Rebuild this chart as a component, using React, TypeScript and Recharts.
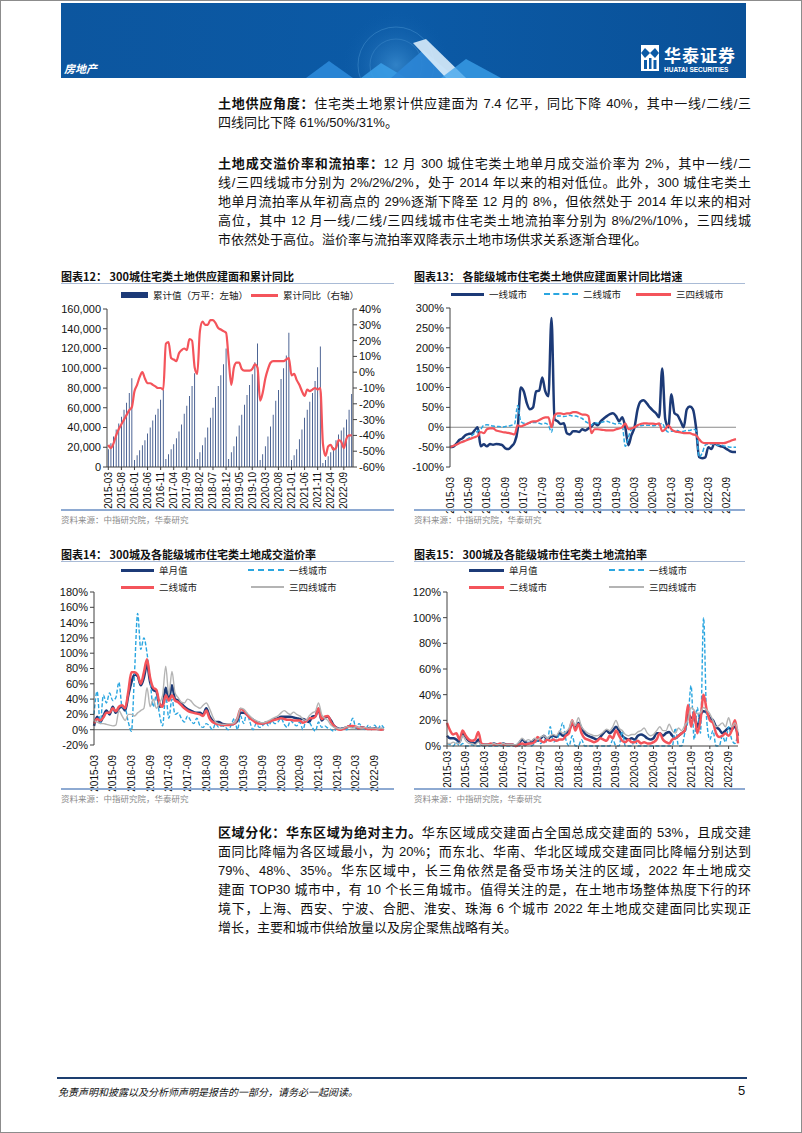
import React from 'react';
import { ComposedChart, LineChart, Bar, Line, XAxis, YAxis, ReferenceLine } from 'recharts';

// month categories 2015-03 .. 2022-12
const months: string[] = [];
for (let y = 2015; y <= 2022; y++) {
  for (let m = y === 2015 ? 3 : 1; m <= 12; m++) months.push(`${y}-${String(m).padStart(2, '0')}`);
}

// 图表12: cumulative supply (万平) and cumulative YoY (%)
const supplyCum = [
  18000, 24000, 31000, 38000, 44000, 51000, 58000, 65000, 75000, 90000,
  7000, 12000, 17000, 22000, 27000, 34000, 40000, 47000, 53000, 59000, 68000, 78000,
  8000, 13000, 18000, 23000, 29000, 36000, 43000, 54000, 62000, 72000, 82000, 95000,
  8000, 15000, 22000, 30000, 40000, 50000, 60000, 71000, 82000, 93000, 104000, 120000,
  8000, 15000, 21000, 31000, 42000, 53000, 63000, 73000, 83000, 94000, 106000, 125000,
  7000, 13000, 21000, 31000, 41000, 53000, 67000, 78000, 89000, 100000, 113000, 136000,
  7000, 12000, 18000, 28000, 38000, 50000, 58000, 66000, 75000, 87000, 101000, 122000,
  4000, 7000, 11000, 15000, 20000, 27000, 33000, 37000, 40000, 48000, 58000, 74000,
];
const supplyYoY = [
  -46, -48, -45, -40, -36, -33, -30, -27, -24, -22,
  -12, -8, -3, 0, -4, -7, -7, -8, -9, -10, -10, -11,
  18, 19, 9, 8, 7, 12, 14, 15, 14, 21, 20, 3,
  -1, 26, 32, 30, 30, 33, 33, 31, 28, 27, 26, 25,
  8, -8, 3, 6, 6, 2, 1, 1, 1, 2, 5, 3,
  -18, -13, -4, 2, 6, 7, 7, 7, 7, 7, 8, 9,
  -2, -1, -5, -8, -12, -15, -11, -12, -11, -10, -11, -10,
  -45, -53, -47, -46, -49, -48, -43, -44, -48, -42, -40, -40,
];

// 图表13: cumulative supply YoY by city tier (%)
const tier1Supply = [
  -50, -49, -42, -32, -28, -20, -17, -16, -8, 0,
  -48, -43, -48, -42, -44, -42, -43, -45, -53, -55,
  -48, -38, -5, 100, 90, 60, 45, 50, 90, 92,
  125, 90, 78, 275, 20, 15, 8, 10, -15, -18,
  -10, -10, -12, -5, -8, -3, 2, 10, 5, 15,
  22, 28, 33, 35, 28, 15, 25, 0, -45, -20,
  0, 45, 65, 68, 60, 50, 42, 35, 25, 148,
  20, 0, 83, 35, 30, 15, 0, 45, 52, 45,
  0, -75, -78, -76, -50, -55, -40, -45, -48, -50,
  -55, -60, -62, -62,
];
const tier2Supply = [
  -48, -47, -44, -40, -36, -32, -28, -22, -15, -10,
  -5, 5, 6, 5, 3, 2, 2, 0, 2, 3,
  5, 8, 55, 15, 10, 10, 10, 12, 12, 10,
  8, 10, 5, -12, 25, 28, 28, 27, 28, 30,
  28, 28, 25, 22, 15, 10, 5, 12, 10, 12,
  14, 15, 12, 10, 8, 10, 5, -48, -25, -5,
  0, 2, 4, 5, 5, 5, 4, 5, 6, 10,
  -5, -12, -10, -10, -8, -12, -10, -8, -8, -5,
  -8, -75, -65, -45, -42, -42, -42, -45, -45, -47,
  -48, -50, -50, -50,
];
const tier34Supply = [
  -50, -47, -44, -40, -37, -34, -31, -28, -25, -22,
  -12, -15, -5, -3, -3, -8, -10, -12, -13, -14,
  -16, -18, 5, 2, 5, 8, 12, 15, 15, 18,
  22, 25, 25, 0, 30, 35, 35, 33, 35, 35,
  38, 38, 35, 32, 32, 28, -15, -5, -5, -6,
  -7, -8, -8, -8, -5, -3, 0, 10, -5, -3,
  0, 5, 8, 10, 10, 9, 9, 8, 10, -10,
  -5, 5, -5, -10, -12, -13, -15, -15, -15, -18,
  -20, -30, -38, -40, -40, -40, -40, -40, -40, -40,
  -38, -35, -32, -30,
];

// 图表14: premium rate (%)
const premiumAll = [
  5, 17, 10, 18, 25, 20, 30, 22, 28, 30,
  25, 45, 62, 72, 70, 58, 68, 85, 62, 52,
  50, 30, 32, 55, 40, 58, 40, 38, 34, 30,
  27, 25, 23, 22, 22, 20, 28, 18, 12, 10,
  10, 8, 7, 7, 7, 8, 12, 22, 22, 20,
  16, 13, 10, 9, 8, 9, 10, 12, 14, 15,
  17, 17, 17, 17, 16, 15, 14, 14, 12, 10,
  17, 18, 27, 12, 16, 17, 12, 5, 2, 1,
  2, 3, 5, 4, 3, 2, 3, 2, 2, 1,
  2, 1, 1, 1,
];
const premiumT1 = [
  20, 50, 8, 45, 35, 48, 38, 42, 62, 30,
  28, 10, -2, 75, 152, 105, 120, 100, 65, 30,
  45, 20, 5, 45, 15, 40, 20, 22, 15, 10,
  18, 12, 8, 15, 5, 3, 8, 5, 0, 8,
  3, 5, 4, 0, 6, 15, 0, 18, 8, 22,
  10, 0, 8, 3, 5, 10, 5, 12, 8, 10,
  15, 7, 3, 12, 8, 5, 10, 0, 12, 10,
  3, -2, 10, 3, 5, 2, 0, -2, 3, 1,
  2, 0, 5, 15, 2, 8, 3, 0, 6, 2,
  6, 1, 6, 2,
];
const premiumT2 = [
  8, 14, 12, 16, 22, 22, 28, 24, 30, 32,
  28, 50, 75, 75, 72, 60, 75, 92, 68, 55,
  52, 35, 30, 45, 38, 45, 38, 36, 32, 28,
  25, 23, 22, 21, 20, 18, 25, 15, 10, 8,
  7, 6, 6, 6, 7, 8, 15, 27, 25, 20,
  15, 12, 9, 8, 8, 9, 10, 12, 13, 14,
  15, 14, 13, 13, 12, 12, 12, 9, 11, 15,
  15, 17, 28, 14, 17, 18, 10, 5, 1, 0,
  1, 3, 5, 5, 4, 2, 3, 2, 1, 1,
  1, 1, 0, 1,
];
const premiumT34 = [
  12, 10, 8, 8, 7, 6, 5, 6, 25, 18,
  12, 20, 20, 18, 22, 25, 28, 55, 30, 40,
  28, 35, 45, 83, 45, 76, 48, 42, 36, 35,
  40, 38, 33, 30, 28, 32, 35, 28, 18, 10,
  8, 7, 7, 8, 8, 9, 15, 28, 27, 22,
  18, 14, 12, 10, 9, 10, 12, 14, 16, 18,
  22, 25, 22, 20, 23, 20, 18, 14, 12, 18,
  22, 24, 35, 20, 15, 12, 6, 3, 2, 1,
  2, 4, 3, 2, 4, 3, 2, 3, 2, 2,
  2, 1, 2, 1,
];

// 图表15: unsold (流拍) rate (%)
const failAll = [
  8, 6, 6, 5, 3, 10, 7, 4, 3, 2,
  5, 1, 1, 1, 1, 2, 1, 1, 2, 1,
  1, 1, 0, 2, 5, 3, 2, 3, 5, 4,
  6, 8, 5, 7, 8, 7, 10, 8, 9, 12,
  17, 15, 18, 14, 10, 8, 7, 6, 5, 7,
  10, 12, 10, 12, 15, 12, 8, 6, 5, 6,
  5, 8, 9, 8, 6, 5, 6, 10, 10, 8,
  10, 11, 8, 6, 8, 10, 12, 25, 22, 22,
  15, 24, 27, 26, 22, 20, 15, 13, 10, 12,
  14, 13, 15, 8,
];
const failT1 = [
  2, 1, 0, 3, 0, 2, 0, 0, 1, 0,
  0, 0, 0, 0, 0, 0, 0, 0, 0, 0,
  0, 0, 0, 0, 2, 0, 3, 0, 2, 4,
  2, 5, 3, 15, 3, 5, 10, 18, 5, 0,
  8, 0, 0, 5, 0, 0, 0, 0, 0, 0,
  0, 0, 0, 5, 0, 0, 12, 0, 0, 0,
  5, 0, 0, 0, 0, 0, 0, 0, 0, 0,
  0, 0, 0, 14, 0, 0, 10, 20, 47, 5,
  30, 10, 100, 20, 5, 12, 0, 0, 8, 3,
  15, 5, 2, 10,
];
const failT2 = [
  18, 12, 9, 10, 5, 12, 8, 5, 4, 5,
  11, 2, 1, 1, 2, 1, 1, 2, 1, 1,
  1, 1, 0, 1, 2, 1, 2, 2, 3, 7,
  4, 3, 5, 4, 5, 4, 5, 5, 8, 10,
  20, 12, 17, 10, 6, 5, 4, 3, 4, 6,
  5, 4, 8, 6, 12, 8, 4, 3, 5, 3,
  3, 4, 2, 3, 2, 2, 3, 5, 10, 5,
  3, 2, 5, 6, 8, 10, 12, 32, 15, 27,
  10, 20, 40, 28, 20, 18, 10, 7, 8, 10,
  8, 12, 20, 2,
];
const failT34 = [
  2, 2, 3, 2, 2, 8, 4, 2, 2, 1,
  3, 1, 1, 1, 1, 2, 1, 1, 2, 1,
  1, 1, 1, 3, 6, 4, 5, 4, 6, 5,
  7, 8, 6, 8, 9, 8, 12, 10, 11, 14,
  20, 16, 22, 15, 12, 10, 9, 8, 8, 9,
  11, 13, 12, 15, 20, 14, 12, 9, 8, 9,
  9, 11, 12, 14, 10, 8, 9, 12, 15, 12,
  12, 17, 12, 10, 14, 12, 16, 20, 30, 28,
  25, 26, 30, 28, 25, 20, 15, 16, 18, 15,
  22, 15, 18, 12,
];

const supplyTicks = [0, 20000, 40000, 60000, 80000, 100000, 120000, 140000, 160000];
const yoyTicks = [-60, -50, -40, -30, -20, -10, 0, 10, 20, 30, 40];
const tierTicks = [-100, -50, 0, 50, 100, 150, 200, 250, 300];
const premiumTicks = [-20, 0, 20, 40, 60, 80, 100, 120, 140, 160, 180];
const failTicks = [0, 20, 40, 60, 80, 100, 120];

const data12 = months.map((m, i) => ({ month: m, cum: supplyCum[i], yoy: supplyYoY[i] }));
const data13 = months.map((m, i) => ({ month: m, t1: tier1Supply[i], t2: tier2Supply[i], t34: tier34Supply[i] }));
const data14 = months.map((m, i) => ({ month: m, all: premiumAll[i], t1: premiumT1[i], t2: premiumT2[i], t34: premiumT34[i] }));
const data15 = months.map((m, i) => ({ month: m, all: failAll[i], t1: failT1[i], t2: failT2[i], t34: failT34[i] }));

const SANS = '"Liberation Sans", Arial, "Noto Sans CJK SC", sans-serif';
const CJK = '"Noto Sans CJK SC", "Liberation Sans", sans-serif';
const NAVY = '#1c3a77';
const RED = '#f4545b';
const CYAN = '#2aa6e0';
const GREY = '#b4b4b4';

const pct = (v: number) => `${v}%`;
const thousands = (v: number) => v.toLocaleString('en-US');

const RotTick = (props: any) => {
  const { x, y, payload } = props;
  return (
    <g transform={`translate(${x},${y})`}>
      <text x={0} y={0} dy={3.5} transform="rotate(-90)" textAnchor="end" fontSize={10} fill="#111" fontFamily={SANS}>
        {payload.value}
      </text>
    </g>
  );
};

const yTick = { fontSize: 11, fill: '#111', fontFamily: SANS };

type Seg = [string, boolean];
const TextLine = ({ y, parts, last }: { y: number; parts: Seg[]; last?: boolean }) => (
  <div
    style={{
      position: 'absolute', left: 217, top: y - 10, width: 533, height: 20, lineHeight: '20px',
      fontSize: 13, fontFamily: SANS, color: '#111', textAlign: 'justify',
      textAlignLast: last ? 'left' : 'justify',
    }}
  >
    {parts.map(([t, b], i) => (
      <span key={i} style={{ fontWeight: b ? 700 : 400 }}>{t}</span>
    ))}
  </div>
);

const Title = ({ x, y, w, text }: { x: number; y: number; w: number; text: string }) => (
  <>
    <div style={{ position: 'absolute', left: x, top: y - 8, fontSize: 11, fontWeight: 700, fontFamily: CJK, color: '#111', whiteSpace: 'nowrap', lineHeight: '16px' }}>{text}</div>
    <div style={{ position: 'absolute', left: x, top: y + 7, width: w, height: 1, background: '#a9bbd6' }} />
  </>
);

const Source = ({ x, y, w }: { x: number; y: number; w: number }) => (
  <>
    <div style={{ position: 'absolute', left: x, top: y, width: w, height: 2, background: '#8eaad2' }} />
    <div style={{ position: 'absolute', left: x, top: y + 3, fontSize: 8.5, fontFamily: CJK, color: '#8a8a8a', lineHeight: '14px', whiteSpace: 'nowrap' }}>资料来源：中指研究院，华泰研究</div>
  </>
);

const LegendItem = ({ x, y, w, color, kind, text }: { x: number; y: number; w: number; color: string; kind: string; text: string }) => {
  let sw: React.CSSProperties;
  if (kind === 'bar') sw = { top: y - 3, height: 6, background: color };
  else if (kind === 'dash') sw = { top: y - 1, height: 0, borderTop: `2px dashed ${color}` };
  else if (kind === 'thin') sw = { top: y - 1, height: 1.5, background: color };
  else sw = { top: y - 1.5, height: 3, background: color };
  return (
    <>
      <div style={{ position: 'absolute', left: x, width: w, ...sw }} />
      <div style={{ position: 'absolute', left: x + w + 5, top: y - 7, fontSize: 9.5, fontFamily: CJK, color: '#222', lineHeight: '14px', whiteSpace: 'nowrap' }}>{text}</div>
    </>
  );
};

const Banner = () => (
  <div style={{ position: 'absolute', left: 60, top: 2, width: 685, height: 75, background: 'linear-gradient(90deg,#0c569f,#0b5aa6 50%,#0a5198)', overflow: 'hidden' }}>
    <svg width={685} height={75} style={{ position: 'absolute', left: 0, top: 0 }}>
      <defs>
        <radialGradient id="glow" cx="0.5" cy="0.5" r="0.5">
          <stop offset="0%" stopColor="#5fb3f0" stopOpacity={0.45} />
          <stop offset="100%" stopColor="#0b5aa6" stopOpacity={0} />
        </radialGradient>
      </defs>
      <circle cx={335} cy={62} r={55} fill="url(#glow)" />
      <circle cx={335} cy={62} r={38} fill="none" stroke="#7cc4f5" strokeOpacity={0.25} />
      <circle cx={335} cy={62} r={26} fill="none" stroke="#7cc4f5" strokeOpacity={0.2} />
      <polygon points="245,75 268,58 292,75" fill="#2f8fe0" opacity={0.8} />
      <polygon points="300,75 320,60 345,75" fill="#3b9fe8" opacity={0.85} />
      <polygon points="330,75 362,47 395,75" fill="#2c86d6" opacity={0.9} />
      <polygon points="352,40 365,36 405,75 385,75" fill="#d8ecfb" opacity={0.9} />
      <polygon points="380,75 405,56 440,75" fill="#3da3ec" opacity={0.75} />
    </svg>
    <div style={{ position: 'absolute', left: 3, top: 57, fontSize: 11, fontStyle: 'italic', fontWeight: 700, color: '#fff', fontFamily: CJK }}>房地产</div>
    <svg width={18} height={26} style={{ position: 'absolute', left: 580, top: 42 }}>
      <rect x={0} y={0} width={18} height={26} fill="#fff" />
      <polygon points="4,3 9,8 4,13 0,8" fill="#0b5aa6" />
      <polygon points="14,3 18,8 14,13 9,8" fill="#0b5aa6" />
      <rect x={3} y={15} width={3} height={9} fill="#0b5aa6" />
      <rect x={8} y={13} width={2.5} height={11} fill="#0b5aa6" />
      <rect x={12.5} y={15} width={3} height={9} fill="#0b5aa6" />
    </svg>
    <div style={{ position: 'absolute', left: 603, top: 41, fontSize: 17, fontWeight: 700, color: '#fff', fontFamily: CJK, lineHeight: '22px', letterSpacing: 1 }}>华泰证券</div>
    <div style={{ position: 'absolute', left: 603, top: 63, fontSize: 6.5, fontWeight: 700, color: '#fff', fontFamily: SANS, lineHeight: '8px' }}>HUATAI SECURITIES</div>
  </div>
);

const Chart12 = () => (
  <div style={{ position: 'absolute', left: 56, top: 300 }}>
    <ComposedChart width={330} height={215} data={data12} margin={{ top: 8, right: 0, left: 0, bottom: 0 }} barCategoryGap="35%">
      <XAxis dataKey="month" interval={4} tick={<RotTick />} height={49} tickSize={3} tickMargin={2} stroke="#404040" />
      <YAxis yAxisId="l" width={50} domain={[0, 160000]} ticks={supplyTicks} interval={0} tickFormatter={thousands} tick={yTick} stroke="#404040" tickSize={4} />
      <YAxis yAxisId="r" orientation="right" width={34} domain={[-60, 40]} ticks={yoyTicks} interval={0} tickFormatter={pct} tick={yTick} stroke="#404040" tickSize={4} />
      <Bar yAxisId="l" dataKey="cum" fill={NAVY} isAnimationActive={false} />
      <Line yAxisId="r" dataKey="yoy" type="monotone" stroke={RED} strokeWidth={2.2} dot={false} isAnimationActive={false} />
    </ComposedChart>
  </div>
);

const Chart13 = () => (
  <div style={{ position: 'absolute', left: 404, top: 300 }}>
    <LineChart width={339} height={215} data={data13} margin={{ top: 7, right: 8, left: 0, bottom: 0 }}>
      <XAxis dataKey="month" interval={5} tick={<RotTick />} height={49} axisLine={false} tickLine={false} tickMargin={4} />
      <YAxis width={45} domain={[-100, 300]} ticks={tierTicks} interval={0} tickFormatter={pct} tick={yTick} stroke="#404040" tickSize={4} />
      <ReferenceLine y={0} stroke="#8a8a8a" strokeWidth={1.2} />
      <Line dataKey="t1" type="monotone" stroke={NAVY} strokeWidth={2.5} dot={false} isAnimationActive={false} />
      <Line dataKey="t2" type="monotone" stroke={CYAN} strokeWidth={1.5} strokeDasharray="4 2" dot={false} isAnimationActive={false} />
      <Line dataKey="t34" type="monotone" stroke={RED} strokeWidth={2.2} dot={false} isAnimationActive={false} />
    </LineChart>
  </div>
);

const Chart14 = () => (
  <div style={{ position: 'absolute', left: 56, top: 584 }}>
    <LineChart width={332} height={209} data={data14} margin={{ top: 7, right: 5, left: 0, bottom: 0 }}>
      <XAxis dataKey="month" interval={5} tick={<RotTick />} height={49} axisLine={false} tickLine={false} tickMargin={4} />
      <YAxis width={37} domain={[-20, 180]} ticks={premiumTicks} interval={0} tickFormatter={pct} tick={yTick} stroke="#404040" tickSize={4} />
      <ReferenceLine y={0} stroke="#8a8a8a" strokeWidth={1.2} />
      <Line dataKey="all" type="monotone" stroke={NAVY} strokeWidth={2.5} dot={false} isAnimationActive={false} />
      <Line dataKey="t1" type="monotone" stroke={CYAN} strokeWidth={1.4} strokeDasharray="4 2" dot={false} isAnimationActive={false} />
      <Line dataKey="t2" type="monotone" stroke={RED} strokeWidth={2.5} dot={false} isAnimationActive={false} />
      <Line dataKey="t34" type="monotone" stroke={GREY} strokeWidth={1.4} dot={false} isAnimationActive={false} />
    </LineChart>
  </div>
);

const Chart15 = () => (
  <div style={{ position: 'absolute', left: 404, top: 584 }}>
    <LineChart width={338} height={210} data={data15} margin={{ top: 7, right: 5, left: 0, bottom: 0 }}>
      <XAxis dataKey="month" interval={5} tick={<RotTick />} height={49} tickSize={3} tickMargin={2} stroke="#404040" />
      <YAxis width={42} domain={[0, 120]} ticks={failTicks} interval={0} tickFormatter={pct} tick={yTick} stroke="#404040" tickSize={4} />
      <Line dataKey="all" type="monotone" stroke={NAVY} strokeWidth={2.5} dot={false} isAnimationActive={false} />
      <Line dataKey="t1" type="monotone" stroke={CYAN} strokeWidth={1.4} strokeDasharray="4 2" dot={false} isAnimationActive={false} />
      <Line dataKey="t2" type="monotone" stroke={RED} strokeWidth={2.5} dot={false} isAnimationActive={false} />
      <Line dataKey="t34" type="monotone" stroke={GREY} strokeWidth={1.4} dot={false} isAnimationActive={false} />
    </LineChart>
  </div>
);

export default function App() {
  return (
    <div style={{ position: 'absolute', left: 0, top: 0, width: 802, height: 1133, background: '#fff', border: '1px solid #8c8c8c', boxSizing: 'border-box', overflow: 'hidden' }}>
      <Banner />

      <TextLine y={103} parts={[['土地供应角度：', true], ['住宅类土地累计供应建面为 7.4 亿平，同比下降 40%，其中一线/二线/三', false]]} />
      <TextLine y={122} last parts={[['四线同比下降 61%/50%/31%。', false]]} />

      <TextLine y={163} parts={[['土地成交溢价率和流拍率：', true], ['12 月 300 城住宅类土地单月成交溢价率为 2%，其中一线/二', false]]} />
      <TextLine y={182} parts={[['线/三四线城市分别为 2%/2%/2%，处于 2014 年以来的相对低位。此外，300 城住宅类土', false]]} />
      <TextLine y={201} parts={[['地单月流拍率从年初高点的 29%逐渐下降至 12 月的 8%，但依然处于 2014 年以来的相对', false]]} />
      <TextLine y={220} parts={[['高位，其中 12 月一线/二线/三四线城市住宅类土地流拍率分别为 8%/2%/10%，三四线城', false]]} />
      <TextLine y={239} last parts={[['市依然处于高位。溢价率与流拍率双降表示土地市场供求关系逐渐合理化。', false]]} />

      <Title x={60} y={275} w={333} text="图表12： 300城住宅类土地供应建面和累计同比" />
      <LegendItem x={120} y={294} w={27} color={NAVY} kind="bar" text="累计值（万平：左轴）" />
      <LegendItem x={250} y={294} w={27} color={RED} kind="line" text="累计同比（右轴）" />
      <Chart12 />
      <Source x={60} y={508} w={333} />

      <Title x={413} y={275} w={331} text="图表13： 各能级城市住宅类土地供应建面累计同比增速" />
      <LegendItem x={450} y={293} w={33} color={NAVY} kind="line" text="一线城市" />
      <LegendItem x={543} y={293} w={34} color={CYAN} kind="dash" text="二线城市" />
      <LegendItem x={635} y={293} w={35} color={RED} kind="line" text="三四线城市" />
      <Chart13 />
      <Source x={413} y={508} w={331} />

      <Title x={60} y={553} w={333} text="图表14： 300城及各能级城市住宅类土地成交溢价率" />
      <LegendItem x={120} y={569} w={33} color={NAVY} kind="line" text="单月值" />
      <LegendItem x={247} y={569} w={36} color={CYAN} kind="dash" text="一线城市" />
      <LegendItem x={120} y={586} w={33} color={RED} kind="line" text="二线城市" />
      <LegendItem x={250} y={586} w={33} color={GREY} kind="thin" text="三四线城市" />
      <Chart14 />
      <Source x={60} y={787} w={333} />

      <Title x={413} y={553} w={331} text="图表15： 300城及各能级城市住宅类土地流拍率" />
      <LegendItem x={468} y={569} w={35} color={NAVY} kind="line" text="单月值" />
      <LegendItem x={608} y={569} w={35} color={CYAN} kind="dash" text="一线城市" />
      <LegendItem x={468} y={586} w={35} color={RED} kind="line" text="二线城市" />
      <LegendItem x={608} y={586} w={35} color={GREY} kind="thin" text="三四线城市" />
      <Chart15 />
      <Source x={413} y={787} w={331} />

      <TextLine y={832} parts={[['区域分化：华东区域为绝对主力。', true], ['华东区域成交建面占全国总成交建面的 53%，且成交建', false]]} />
      <TextLine y={851} parts={[['面同比降幅为各区域最小，为 20%；而东北、华南、华北区域成交建面同比降幅分别达到', false]]} />
      <TextLine y={870} parts={[['79%、48%、35%。华东区域中，长三角依然是备受市场关注的区域，2022 年土地成交', false]]} />
      <TextLine y={889} parts={[['建面 TOP30 城市中，有 10 个长三角城市。值得关注的是，在土地市场整体热度下行的环', false]]} />
      <TextLine y={908} parts={[['境下，上海、西安、宁波、合肥、淮安、珠海 6 个城市 2022 年土地成交建面同比实现正', false]]} />
      <TextLine y={927} last parts={[['增长，主要和城市供给放量以及房企聚焦战略有关。', false]]} />

      <div style={{ position: 'absolute', left: 56, top: 1076, width: 690, height: 2, background: '#1d3f70' }} />
      <div style={{ position: 'absolute', left: 57, top: 1083, fontSize: 10, fontStyle: 'italic', fontFamily: CJK, color: '#111', lineHeight: '16px', whiteSpace: 'nowrap' }}>免责声明和披露以及分析师声明是报告的一部分，请务必一起阅读。</div>
      <div style={{ position: 'absolute', left: 737, top: 1082, fontSize: 13, fontFamily: SANS, color: '#111', lineHeight: '16px' }}>5</div>
    </div>
  );
}
